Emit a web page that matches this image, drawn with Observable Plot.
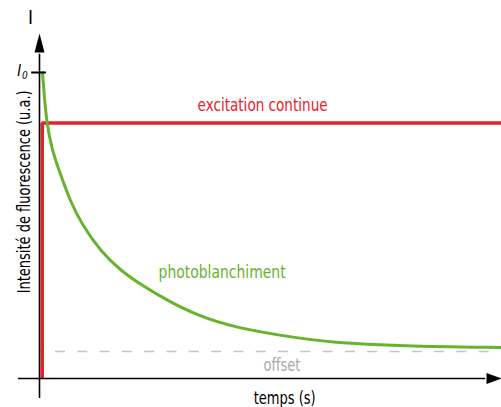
<!DOCTYPE html>
<html>
<head>
<meta charset="utf-8">
<script src="https://cdn.jsdelivr.net/npm/d3@7"></script>
<script src="https://cdn.jsdelivr.net/npm/@observablehq/plot@0.6"></script>
<style>
  html, body { margin: 0; padding: 0; background: #fff; }
  svg { display: block; }
</style>
</head>
<body>
<script>
// ---- data (time in arbitrary units, intensity in % of I0) ----
const bleachT = [0.65, 1.5, 2.8, 4.1, 6.7, 9.1, 13.3, 17.6, 22.6, 27.8, 34.3, 42.2, 55.2, 63.3, 78.5, 100.5];
const bleachI = [100, 83.3, 74.5, 68.6, 57.8, 50.7, 41.5, 35.3, 30.1, 25.5, 20.6, 16.7, 13.4, 11.8, 10.6, 10.1];
const exciteT = [0.6, 0.6, 100.5];
const exciteI = [0, 83.5, 83.5];
const offsetLevel = 8.8;
const I0 = 100;

const labels = {
  excitation: "excitation continue",
  bleach: "photoblanchiment",
  offset: "offset",
  xTitle: "temps (s)",
  yTitle: "Intensité de fluorescence (u.a.)",
  yAxis: "I",
  i0: "I",
  i0sub: "0"
};

const bleach = bleachT.map((t, i) => ({t, v: bleachI[i]}));
const excite = exciteT.map((t, i) => ({t, v: exciteI[i]}));

const RED = "#e5222a", GREEN = "#66b32e", GRAY = "#c4c4c4";
const FONT = "'Liberation Sans Narrow', 'DejaVu Sans Condensed', 'Roboto', sans-serif";

const arrowUp = {draw(c) { c.moveTo(0, -9.5); c.lineTo(5, 9.5); c.lineTo(-5, 9.5); c.closePath(); }};
const arrowRight = {draw(c) { c.moveTo(7.5, 0); c.lineTo(-7.5, 5.5); c.lineTo(-7.5, -5.5); c.closePath(); }};

const chart = Plot.plot({
  width: 501,
  height: 407,
  margin: 0,
  style: {fontFamily: FONT, background: "#fff"},
  x: {domain: [0, 100], range: [39, 499], axis: null},
  y: {domain: [0, 100], range: [378, 72], axis: null},
  marks: [
    Plot.ruleY([offsetLevel], {x1: 0, x2: 100.5, stroke: GRAY, strokeWidth: 1.6, strokeDasharray: "10,12.3", strokeDashoffset: 6.3}),
    Plot.line(excite, {x: "t", y: "v", stroke: RED, strokeWidth: 3.5, strokeLinejoin: "miter", strokeLinecap: "butt"}),
    Plot.line(bleach, {x: "t", y: "v", stroke: GREEN, strokeWidth: 3, curve: "basis"}),
    // axes
    Plot.ruleX([0], {y1: -6.5, y2: 106, stroke: "#000", strokeWidth: 1.6}),
    Plot.ruleY([0], {x1: -4.6, x2: 97, stroke: "#000", strokeWidth: 1.6}),
    Plot.ruleY([I0], {x1: -1.7, x2: 1.5, stroke: "#000", strokeWidth: 2}),
    Plot.dot([0], {x: 0, y: 109.6, symbol: arrowUp, fill: "#000", stroke: "none"}),
    Plot.dot([0], {x: 98.8, y: 0, symbol: arrowRight, fill: "#000", stroke: "none"}),
    // texts
    Plot.text([labels.excitation], {x: 48.5, y: 87.4, text: d => d, fill: RED, fontSize: 17, lineAnchor: "bottom", textAnchor: "middle"}),
    Plot.text([labels.bleach], {x: 39.7, y: 32.7, text: d => d, fill: GREEN, fontSize: 17, lineAnchor: "bottom", textAnchor: "middle"}),
    Plot.text([labels.offset], {x: 52.7, y: 2.4, text: d => d, fill: "#a9a9a9", fontSize: 17, lineAnchor: "bottom", textAnchor: "middle"}),
    Plot.text([labels.xTitle], {x: 53.3, y: -8.2, text: d => d, fill: "#000", fontSize: 17, lineAnchor: "bottom", textAnchor: "middle"}),
    Plot.text([labels.yTitle], {x: -1.96, y: 61, text: d => d, fill: "#000", fontSize: 17, rotate: -90, lineAnchor: "bottom", textAnchor: "middle"}),
    Plot.text([labels.yAxis], {x: -1.96, y: 115.7, text: d => d, fill: "#000", fontSize: 19, lineAnchor: "bottom", textAnchor: "middle"}),
    Plot.text([labels.i0], {x: -4.4, y: 98.7, text: d => d, fill: "#000", fontSize: 15, fontStyle: "italic", lineAnchor: "bottom", textAnchor: "middle"}),
    Plot.text([labels.i0sub], {x: -3.2, y: 97.9, text: d => d, fill: "#000", fontSize: 10, fontStyle: "italic", lineAnchor: "bottom", textAnchor: "middle"})
  ]
});

// fit label widths to the reference's condensed typeface
const widths = {
  [labels.excitation]: 130,
  [labels.bleach]: 127,
  [labels.offset]: 37,
  [labels.xTitle]: 62,
  [labels.yTitle]: 203
};
d3.select(chart).selectAll("text").each(function() {
  const w = widths[this.textContent];
  if (w) { this.setAttribute("textLength", w); this.setAttribute("lengthAdjust", "spacingAndGlyphs"); }
});

document.body.appendChild(chart);
</script>
</body>
</html>
